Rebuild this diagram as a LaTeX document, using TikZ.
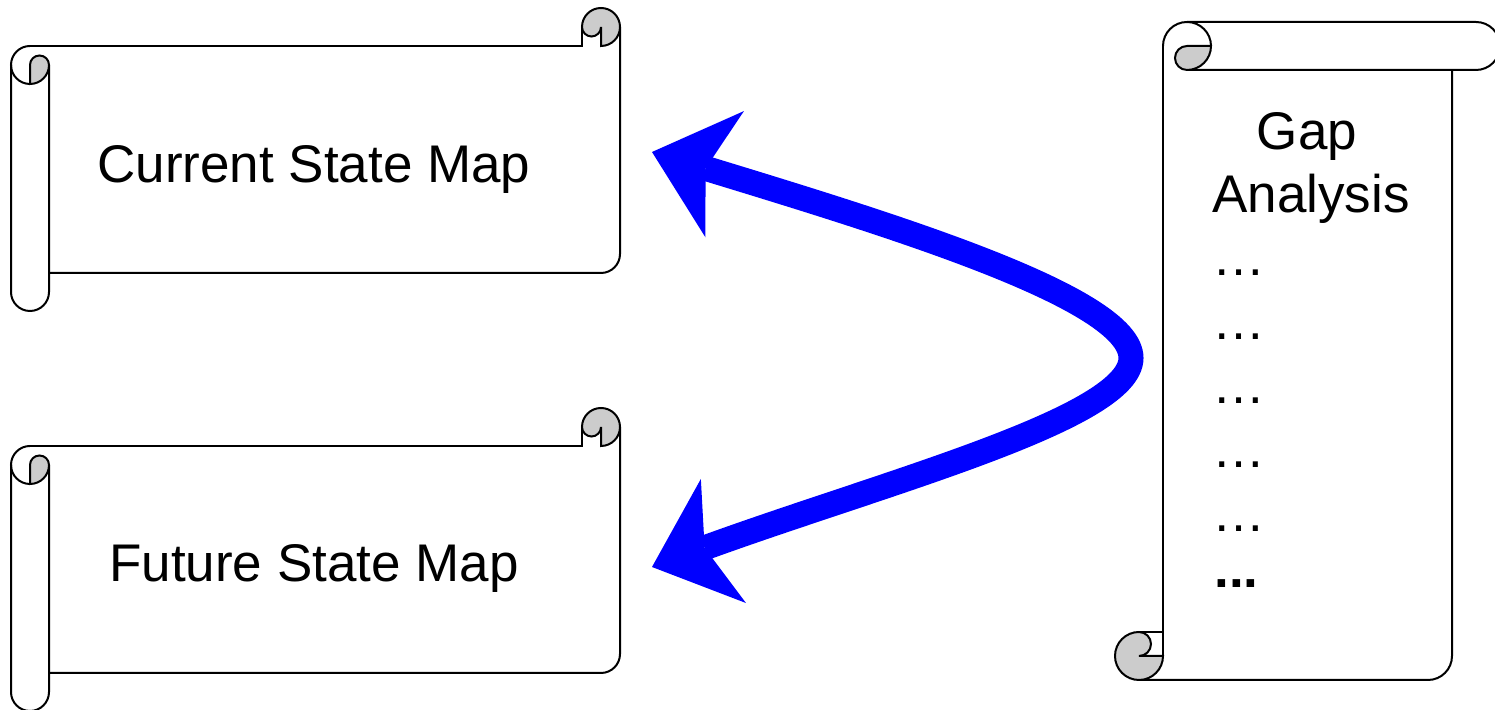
\documentclass[tikz,border=0pt]{standalone}
\usepackage{fontspec}
\setmainfont{Liberation Sans}
\usetikzlibrary{arrows.meta}
\definecolor{curlgray}{RGB}{204,204,204}
\tikzset{
  scrollline/.style={draw=black, line width=1pt},
  hscroll/.pic={
    % left roll
    \draw[scrollline] (19,265) arc[start angle=90,end angle=270,radius=19];
    \draw[scrollline] (0,246) -- (0,19) arc[start angle=180,end angle=360,radius=19] -- (38,246);
    % sheet
    \draw[scrollline] (19,265) -- (571,265) -- (571,284);
    \draw[scrollline] (609,284) -- (609,57) arc[start angle=0,end angle=-90,radius=19] -- (38,38);
    % curls
    \draw[scrollline,fill=curlgray] (19,227) -- (19,246) arc[start angle=180,end angle=0,radius=9.5] arc[start angle=0,end angle=-90,radius=19] -- cycle;
    \draw[scrollline,fill=curlgray] (571,284) arc[start angle=180,end angle=-90,radius=19] -- (590,284) arc[start angle=0,end angle=-180,radius=9.5] -- cycle;
  },
  gaparrow/.style={draw=blue, line width=12.5pt,
    {Stealth[length=38pt,width=66pt,inset=10pt,line width=0pt]}-{Stealth[length=38pt,width=66pt,inset=10pt,line width=0pt]}}
}
\begin{document}
\begin{tikzpicture}[x=0.5pt, y=0.5pt, every node/.style={font=\fontsize{26.5}{31}\selectfont, inner sep=0pt}]
      \useasboundingbox (0,0) rectangle (1495,710);
      % two maps
      \pic (cur) at (11,399) {hscroll};
      \pic (fut) at (11,-1) {hscroll};
      \node at (314,527)[anchor=base] (curmap){Current State Map};
      \node at (314,128)[anchor=base] (futmap){Future State Map};
      % gap analysis scroll
      \draw[scrollline] (1163,664) arc[start angle=180,end angle=0,radius=24];
      \draw[scrollline] (1187,688) -- (1476,688) arc[start angle=90,end angle=-90,radius=24] -- (1187,640);
      \draw[scrollline,fill=curlgray] (1187,664) -- (1211,664) arc[start angle=0,end angle=-90,radius=24] arc[start angle=-90,end angle=-270,radius=12] -- cycle;
      \draw[scrollline] (1163,664) -- (1163,54);
      \draw[scrollline] (1452,640) -- (1452,54) arc[start angle=0,end angle=-90,radius=24] -- (1139,30);
      \draw[scrollline] (1139,78) -- (1163,78);
      \draw[scrollline,fill=curlgray] (1163,54) arc[start angle=0,end angle=-270,radius=24] arc[start angle=90,end angle=-90,radius=12] -- cycle;
      \node at (1307,560)[anchor=base] (gap){Gap};
      \node at (1311,497)[anchor=base] (analysis){Analysis};
      \node at (1212,434)[anchor=base west] (dots1){…};
      \node at (1212,370)[anchor=base west] (dots2){…};
      \node at (1212,306)[anchor=base west] (dots3){…};
      \node at (1212,242)[anchor=base west] (dots4){…};
      \node at (1212,178)[anchor=base west] (dots5){…};
      \node at (1214,122)[anchor=base west] (dots6){\bfseries ...};
      % arrow
      \coordinate (curtip) at (652,558);
      \coordinate (apex) at (1131,352);
      \coordinate (futtip) at (652,143);
      \draw[gaparrow] (curtip) .. controls (891,485) and (1131,412) .. (apex) .. controls (1131,292) and (887,228.5) .. (futtip);
      \end{tikzpicture}
\end{document}
